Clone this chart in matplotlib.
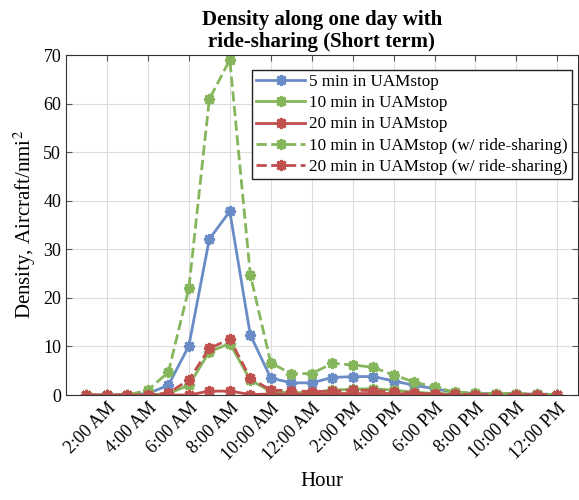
import numpy as np
import matplotlib.pyplot as plt

plt.rcParams["font.family"] = ["Liberation Serif", "DejaVu Serif"]
plt.rcParams["mathtext.fontset"] = "stix"

hours = np.arange(1, 25)
tick_hours = np.arange(2, 25, 2)
tick_labels = ["2:00 AM", "4:00 AM", "6:00 AM", "8:00 AM", "10:00 AM", "12:00 AM",
               "2:00 PM", "4:00 PM", "6:00 PM", "8:00 PM", "10:00 PM", "12:00 PM"]

d5 = [0, 0, 0, 0.3, 2.0, 10.1, 32.1, 37.8, 12.4, 3.5, 2.5, 2.5,
      3.6, 3.8, 3.8, 2.9, 2.0, 1.3, 0.5, 0.3, 0.3, 0.2, 0.2, 0.1]
d10 = [0, 0, 0, 0, 0.3, 2.0, 8.9, 10.6, 3.1, 0.7, 0.5, 0.5,
       1.0, 1.2, 1.3, 1.0, 0.6, 0.3, 0.2, 0.2, 0.2, 0.1, 0.1, 0.1]
d20 = [0, 0, 0, 0, 0, 0, 0.8, 0.8, 0.1, 0.2, 0.2, 0.2,
       0.3, 0.3, 0.3, 0.3, 0.2, 0.1, 0, 0, 0, 0, 0, 0]
d10_rs = [0, 0, 0, 1.0, 4.7, 22.0, 60.9, 69.0, 24.8, 6.6, 4.4, 4.4,
          6.5, 6.2, 5.7, 4.1, 2.7, 1.6, 0.6, 0.4, 0.3, 0.3, 0.2, 0.1]
d20_rs = [0, 0, 0, 0, 0.4, 3.1, 9.6, 11.5, 3.5, 1.0, 0.9, 0.7,
          0.8, 1.0, 0.9, 0.7, 0.4, 0.2, 0.2, 0.1, 0.1, 0.1, 0.1, 0.1]

blue = "#6a8cc6"
green = "#85b65c"
red = "#c0504d"
mk = dict(marker=(8, 2, 0), markersize=8, markeredgewidth=2.0, linewidth=2)

fig = plt.figure(figsize=(5.79, 5.0), dpi=100)
ax = fig.add_axes([0.114, 0.21, 0.884, 0.68])

ax.plot(hours, d5, color=blue, label="5 min in UAMstop", **mk)
ax.plot(hours, d10, color=green, label="10 min in UAMstop", **mk)
ax.plot(hours, d20, color=red, label="20 min in UAMstop", **mk)
ax.plot(hours, d10_rs, color=green, linestyle="--", label="10 min in UAMstop (w/ ride-sharing)", **mk)
ax.plot(hours, d20_rs, color=red, linestyle="--", label="20 min in UAMstop (w/ ride-sharing)", **mk)

ax.set_xlim(0, 25)
ax.set_ylim(0, 70)
ax.set_xticks(tick_hours)
ax.set_xticklabels(tick_labels, rotation=45, ha="right", rotation_mode="anchor", fontsize=13)
ax.set_yticks(np.arange(0, 71, 10))
ax.tick_params(axis="y", labelsize=13)
ax.tick_params(direction="in", top=True, right=True, length=4, color="#555555")
ax.grid(True, color="#dddddd", linewidth=0.8)
for s in ax.spines.values():
    s.set_color("#333333")

ax.set_xlabel("Hour", fontsize=15, labelpad=6)
ax.set_ylabel("Density, Aircraft/nmi$^2$", fontsize=15)
ax.set_title("Density along one day with\nride-sharing (Short term)", fontsize=15,
             fontweight="bold", linespacing=1.1)

leg = ax.legend(loc="upper right", bbox_to_anchor=(0.988, 0.956), borderaxespad=0,
                fontsize=12.3, fancybox=False, framealpha=1, edgecolor="#222222",
                handlelength=2.9, borderpad=0.25, labelspacing=0.3, handletextpad=0.2)
leg.get_frame().set_linewidth(1.0)

fig.savefig("out.png", dpi=100)
